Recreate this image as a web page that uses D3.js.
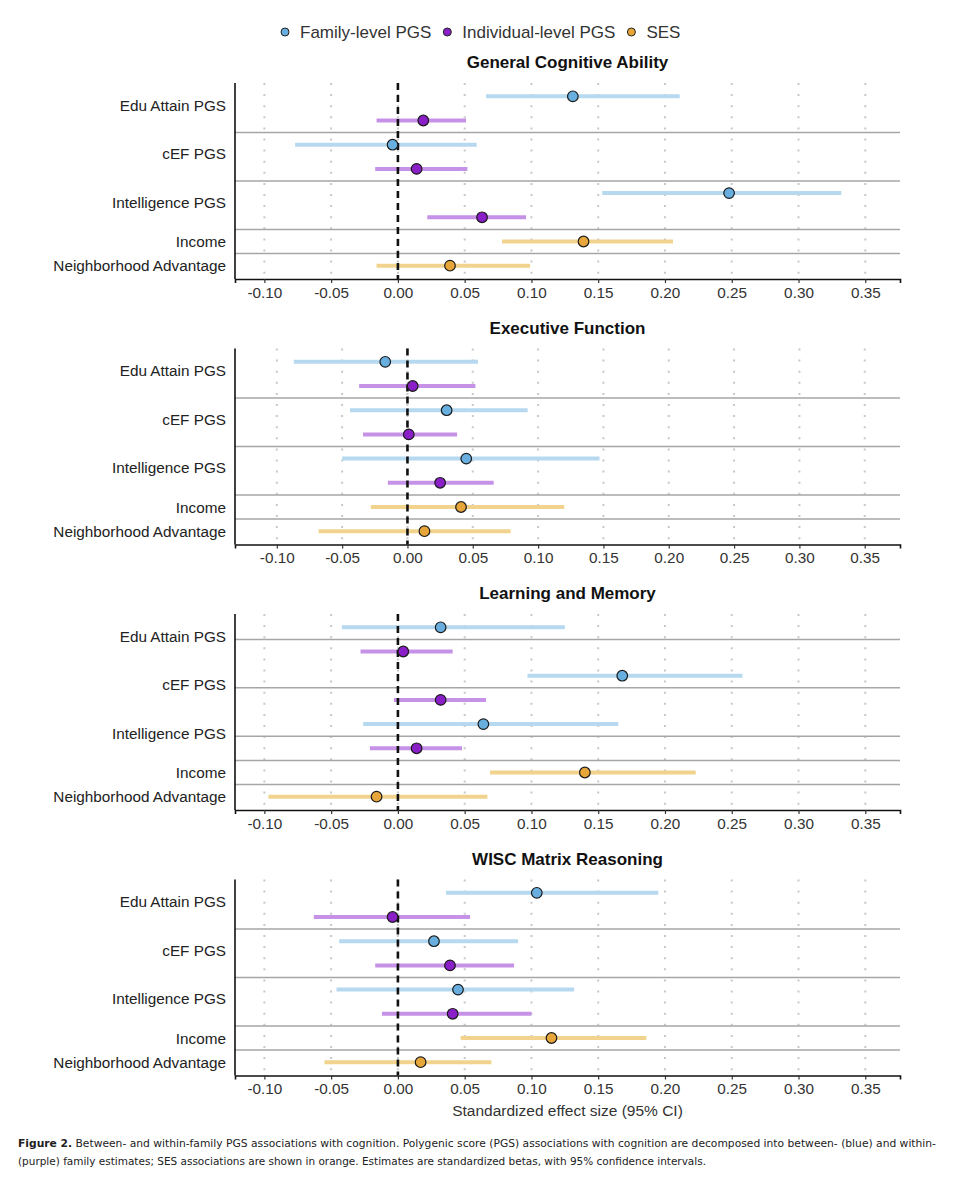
<!DOCTYPE html>
<html>
<head>
<meta charset="utf-8">
<script src="https://cdn.jsdelivr.net/npm/d3@7"></script>
<style>
  html, body { margin: 0; padding: 0; background: #fff; }
  svg { display: block; font-family: "Liberation Sans", Arial, sans-serif; }
</style>
</head>
<body>
<div id="chart"></div>
<script>
// panels and rows
const panelTitles = ["General Cognitive Ability", "Executive Function", "Learning and Memory", "WISC Matrix Reasoning"];
const legendKeys = ["Family-level PGS", "Individual-level PGS", "SES"];
const rowGroup = ["Family-level PGS", "Individual-level PGS", "Family-level PGS", "Individual-level PGS",
                  "Family-level PGS", "Individual-level PGS", "SES", "SES"];
const predictorLabels = ["Edu Attain PGS", "cEF PGS", "Intelligence PGS", "Income", "Neighborhood Advantage"];
const labelRow = [1.37, 3.37, 5.37, 7, 8];
const xTicks = [-0.10, -0.05, 0.00, 0.05, 0.10, 0.15, 0.20, 0.25, 0.30, 0.35];

// estimates + 95% CI, one entry per row (top to bottom)
const gcaEst  = [0.131, 0.019, -0.004, 0.014, 0.248, 0.063, 0.139, 0.039];
const gcaLow  = [0.066, -0.016, -0.077, -0.017, 0.153, 0.022, 0.078, -0.016];
const gcaHigh = [0.211, 0.051, 0.059, 0.052, 0.332, 0.096, 0.206, 0.099];

const efEst  = [-0.017, 0.004, 0.030, 0.001, 0.045, 0.025, 0.041, 0.013];
const efLow  = [-0.087, -0.037, -0.044, -0.034, -0.050, -0.015, -0.028, -0.068];
const efHigh = [0.054, 0.052, 0.092, 0.038, 0.147, 0.066, 0.120, 0.079];

const lmEst  = [0.032, 0.004, 0.168, 0.032, 0.064, 0.014, 0.140, -0.016];
const lmLow  = [-0.042, -0.028, 0.097, -0.003, -0.026, -0.021, 0.069, -0.097];
const lmHigh = [0.125, 0.041, 0.258, 0.066, 0.165, 0.048, 0.223, 0.067];

const wiscEst  = [0.104, -0.004, 0.027, 0.039, 0.045, 0.041, 0.115, 0.017];
const wiscLow  = [0.036, -0.063, -0.044, -0.017, -0.046, -0.012, 0.047, -0.055];
const wiscHigh = [0.195, 0.054, 0.090, 0.087, 0.132, 0.100, 0.186, 0.070];

// row boundaries where the grey separators sit
const gcaSeps  = [2.5, 4.5, 6.5, 7.5];
const efSeps   = [2.5, 4.5, 6.5, 7.5];
const lmSeps   = [1.5, 3.5, 5.5, 6.5, 7.5];
const wiscSeps = [2.5, 4.5, 6.5, 7.5];

const gcaDomain  = [-0.122, 0.376];
const efDomain   = [-0.132, 0.377];
const lmDomain   = [-0.122, 0.376];
const wiscDomain = [-0.122, 0.376];

const caption1 = "Between- and within-family PGS associations with cognition. Polygenic score (PGS) associations with cognition are decomposed into between- (blue) and within-";
const caption2 = "(purple) family estimates; SES associations are shown in orange. Estimates are standardized betas, with 95% confidence intervals.";

const panels = [
  { title: panelTitles[0], est: gcaEst, lo: gcaLow, hi: gcaHigh, seps: gcaSeps, domain: gcaDomain },
  { title: panelTitles[1], est: efEst, lo: efLow, hi: efHigh, seps: efSeps, domain: efDomain },
  { title: panelTitles[2], est: lmEst, lo: lmLow, hi: lmHigh, seps: lmSeps, domain: lmDomain },
  { title: panelTitles[3], est: wiscEst, lo: wiscLow, hi: wiscHigh, seps: wiscSeps, domain: wiscDomain }
];

const pointColor = d3.scaleOrdinal().domain(legendKeys).range(["#68afe0", "#8a1fc8", "#e6a63a"]);
const ciColor = d3.scaleOrdinal().domain(legendKeys).range(["#b6d9f0", "#c692e8", "#f1d38d"]);

const w = 954, h = 1200;
const left = 235, right = 900;
const top0 = 83, plotH = 196, step = 265.5;

const svg = d3.select("#chart").append("svg")
  .attr("width", w)
  .attr("height", h);

// legend
const legend = svg.append("g").attr("transform", "translate(0, 32)");
let lx = 285;
legendKeys.forEach(k => {
  legend.append("circle")
    .attr("cx", lx).attr("cy", 0).attr("r", 4)
    .attr("fill", pointColor(k)).attr("stroke", "#222").attr("stroke-width", 1);
  const t = legend.append("text")
    .attr("x", lx + 15).attr("y", 0).attr("dy", "0.36em")
    .attr("font-size", "17px").attr("fill", "#333")
    .text(k);
  lx += 15 + t.node().getComputedTextLength() + 16;
});

panels.forEach((p, i) => {
  const top = top0 + i * step;
  const g = svg.append("g");

  const x = d3.scaleLinear().domain(p.domain).range([left, right]);
  const y = d3.scaleLinear().domain([0.45, 8.55]).range([top, top + plotH]);

  g.append("text")
    .attr("x", (left + right) / 2).attr("y", top - 21).attr("dy", "0.36em")
    .attr("text-anchor", "middle")
    .attr("font-size", "17px").attr("font-weight", "bold").attr("fill", "#111")
    .text(p.title);

  // dotted vertical grid
  g.selectAll(".grid")
    .data(xTicks)
    .enter().append("line")
    .attr("x1", d => x(d)).attr("x2", d => x(d))
    .attr("y1", top).attr("y2", top + plotH)
    .attr("stroke", "#c8c8c8").attr("stroke-width", 2)
    .attr("stroke-dasharray", "2,9.1");

  // separators
  g.selectAll(".sep")
    .data(p.seps)
    .enter().append("line")
    .attr("x1", left).attr("x2", right)
    .attr("y1", d => y(d)).attr("y2", d => y(d))
    .attr("stroke", "#a6a6a6").attr("stroke-width", 1.5);

  const rows = p.est.map((e, j) => ({ row: j + 1, est: e, lo: p.lo[j], hi: p.hi[j], group: rowGroup[j] }));

  g.selectAll(".ci")
    .data(rows)
    .enter().append("line")
    .attr("x1", d => x(d.lo)).attr("x2", d => x(d.hi))
    .attr("y1", d => y(d.row)).attr("y2", d => y(d.row))
    .attr("stroke", d => ciColor(d.group)).attr("stroke-width", 4);

  // zero reference
  g.append("line")
    .attr("x1", x(0)).attr("x2", x(0))
    .attr("y1", top).attr("y2", top + plotH)
    .attr("stroke", "#111").attr("stroke-width", 2.6)
    .attr("stroke-dasharray", "7,5");

  g.selectAll(".pt")
    .data(rows)
    .enter().append("circle")
    .attr("cx", d => x(d.est)).attr("cy", d => y(d.row)).attr("r", 5.3)
    .attr("fill", d => pointColor(d.group))
    .attr("stroke", "#1a1a1a").attr("stroke-width", 1.2);

  // y axis line + labels
  g.append("line")
    .attr("x1", left).attr("x2", left)
    .attr("y1", top).attr("y2", top + plotH)
    .attr("stroke", "#111").attr("stroke-width", 1.6);

  g.selectAll(".ylab")
    .data(predictorLabels)
    .enter().append("text")
    .attr("x", 226).attr("y", (d, j) => y(labelRow[j])).attr("dy", "0.36em")
    .attr("text-anchor", "end")
    .attr("font-size", "15.3px").attr("fill", "#222")
    .text(d => d);

  const xAxis = d3.axisBottom(x)
    .tickValues(xTicks)
    .tickFormat(d3.format(".2f"))
    .tickSizeOuter(0)
    .tickSize(4)
    .tickPadding(4);

  const ax = g.append("g")
    .attr("transform", `translate(0, ${top + plotH})`)
    .call(xAxis);
  ax.select(".domain").attr("stroke", "#111").attr("stroke-width", 1.6);
  ax.selectAll(".tick line").attr("stroke", "#333").attr("stroke-width", 1.2);
  ax.selectAll(".tick text")
    .attr("font-family", "Liberation Sans, Arial, sans-serif")
    .attr("font-size", "15.3px").attr("fill", "#333")
    .text(d => d3.format(".2f")(d).replace("−", "-"));

  if (i === panels.length - 1) {
    g.append("text")
      .attr("x", (left + right) / 2).attr("y", top + plotH + 35).attr("dy", "0.36em")
      .attr("text-anchor", "middle")
      .attr("font-size", "15.5px").attr("fill", "#333")
      .text("Standardized effect size (95% CI)");
  }
});

// caption
const cap = svg.append("g")
  .attr("font-family", "'Liberation Sans Narrow', 'DejaVu Sans Condensed', 'Open Sans', sans-serif")
  .attr("font-size", "11px").attr("fill", "#222");

const c1 = cap.append("text")
  .attr("x", 18).attr("y", 1147)
  .attr("textLength", 918).attr("lengthAdjust", "spacingAndGlyphs");
c1.append("tspan").attr("font-weight", "bold").text("Figure 2.");
c1.append("tspan").text("  " + caption1);

cap.append("text")
  .attr("x", 18).attr("y", 1165)
  .attr("textLength", 688).attr("lengthAdjust", "spacingAndGlyphs")
  .text(caption2);
</script>
</body>
</html>
